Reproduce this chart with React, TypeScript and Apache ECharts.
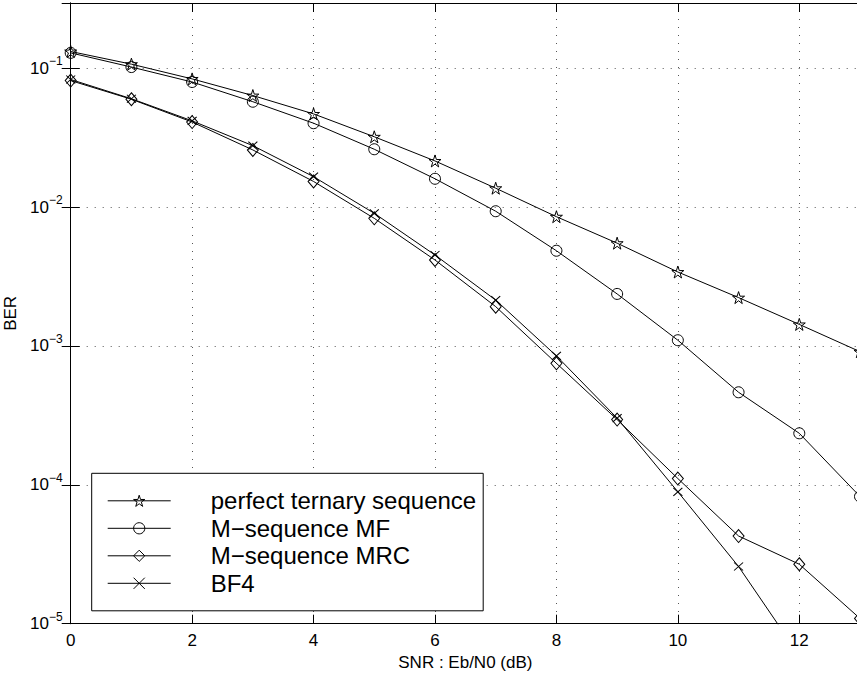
import React, { useEffect, useRef } from "react";
import * as echarts from "echarts";

const snr = [0, 1, 2, 3, 4, 5, 6, 7, 8, 9, 10, 11, 12, 13];
const perfectTernary = [0.132, 0.107, 0.0838, 0.0636, 0.0469, 0.0321, 0.0215, 0.01368, 0.00853, 0.0055, 0.00341, 0.00223, 0.00143, 0.00091];
const mSeqMF = [0.129, 0.102, 0.0796, 0.0574, 0.0402, 0.0261, 0.016, 0.00934, 0.00485, 0.00237, 0.0011, 0.000464, 0.000235, 0.0000824];
const mSeqMRC = [0.0815, 0.0598, 0.041, 0.0258, 0.0153, 0.0083, 0.00416, 0.00192, 0.00075, 0.000295, 0.000111, 0.0000428, 0.0000268, 0.0000109];
const bf4 = [0.083, 0.0603, 0.0418, 0.0277, 0.01656, 0.00902, 0.00452, 0.00214, 0.000848, 0.000302, 0.0000891, 0.0000258, 0.0000059];

const seriesNames = ["perfect ternary sequence", "M\u2212sequence MF", "M\u2212sequence MRC", "BF4"];
const xTicks = [0, 2, 4, 6, 8, 10, 12];

const STAR = "path://M50 0 L61.23 34.55 L97.55 34.55 L68.17 55.9 L79.39 90.45 L50 69.1 L20.61 90.45 L31.83 55.9 L2.45 34.55 L38.77 34.55 Z";
const CROSS = "path://M0 0 L10 10 M10 0 L0 10";

const FONT = "Liberation Sans, Arial, Helvetica, sans-serif";

function pairs(vals: number[]) {
  return vals.map((v, i) => [snr[i], v]);
}

export default function App() {
  const ref = useRef<HTMLDivElement>(null);
  useEffect(() => {
    if (!ref.current) return;
    const chart = echarts.init(ref.current, null, { renderer: "svg" });
    const mk = (name: string, data: number[], symbol: string, size: any) => ({
      name,
      type: "line",
      data: pairs(data),
      symbol,
      symbolSize: size,
      showAllSymbol: true,
      clip: true,
      lineStyle: { color: "#000", width: 1 },
      itemStyle: { color: "transparent", borderColor: "#000", borderWidth: 1 },
      emphasis: { disabled: true },
    });
    const gridLine = { show: true, lineStyle: { color: "#555", width: 1, type: [1, 7] } };
    chart.setOption({
      animation: false,
      backgroundColor: "#fff",
      textStyle: { fontFamily: FONT },
      grid: {
        left: 70.7,
        top: 3,
        width: 789.3,
        height: 620.7,
        containLabel: false,
        outerBoundsMode: "none",
      },
      xAxis: [
        {
          type: "value",
          min: 0,
          max: 13,
          interval: 2,
          position: "bottom",
          name: "SNR : Eb/N0 (dB)",
          nameLocation: "middle",
          nameGap: 29,
          nameTextStyle: { fontSize: 17, color: "#000", fontFamily: FONT },
          axisLine: { show: true, lineStyle: { color: "#000", width: 1 } },
          axisTick: { show: true, inside: true, length: 9, lineStyle: { color: "#000" } },
          axisLabel: {
            fontSize: 17,
            color: "#000",
            margin: 8,
            showMaxLabel: false,
            fontFamily: FONT,
            formatter: (v: number) => (xTicks.includes(v) ? String(v) : ""),
          },
          splitLine: gridLine,
        },
        {
          type: "value",
          min: 0,
          max: 13,
          interval: 2,
          position: "top",
          axisLine: { show: true, lineStyle: { color: "#000", width: 1 } },
          axisTick: { show: true, inside: true, length: 9, lineStyle: { color: "#000" } },
          axisLabel: { show: false },
          splitLine: { show: false },
        },
      ],
      yAxis: [
        {
          type: "log",
          logBase: 10,
          min: 1e-5,
          max: 0.295,
          position: "left",
          name: "BER",
          nameLocation: "middle",
          nameGap: 44,
          nameTextStyle: { fontSize: 17, color: "#000", fontFamily: FONT },
          axisLine: { show: true, lineStyle: { color: "#000", width: 1 } },
          axisTick: { show: true, inside: true, length: 9, lineStyle: { color: "#000" } },
          axisLabel: {
            showMaxLabel: false,
            margin: 8,
            color: "#000",
            fontFamily: FONT,
            formatter: (v: number) => {
              const e = Math.round(Math.log10(v));
              if (Math.abs(Math.log10(v) - e) > 0.01) return "";
              return "{b|10}{s|" + (e < 0 ? "\u2212" : "") + Math.abs(e) + "}";
            },
            rich: {
              b: { fontSize: 17, lineHeight: 26, verticalAlign: "middle", color: "#000", fontFamily: FONT },
              s: { fontSize: 12, lineHeight: 12, verticalAlign: "top", color: "#000", fontFamily: FONT },
            },
          },
          splitLine: gridLine,
        },
        {
          type: "log",
          logBase: 10,
          min: 1e-5,
          max: 0.295,
          position: "right",
          axisLine: { show: true, lineStyle: { color: "#000", width: 1 } },
          axisTick: { show: true, inside: true, length: 9, lineStyle: { color: "#000" } },
          axisLabel: { show: false },
          splitLine: { show: false },
        },
      ],
      legend: {
        data: seriesNames,
        orient: "vertical",
        left: 91.7,
        top: 473.3,
        padding: [15.5, 7, 15.5, 15.5],
        itemGap: 3.5,
        itemWidth: 63,
        itemHeight: 14,
        backgroundColor: "#fff",
        borderColor: "#000",
        borderWidth: 1,
        selectedMode: false,
        itemStyle: { color: "transparent", borderColor: "#000", borderWidth: 1 },
        lineStyle: { color: "#000", width: 1 },
        textStyle: {
          fontSize: 24,
          lineHeight: 24,
          color: "#000",
          fontFamily: FONT,
          padding: [0, 0, 0, 35],
        },
      },
      series: [
        mk(seriesNames[0], perfectTernary, STAR, [12, 12]),
        mk(seriesNames[1], mSeqMF, "circle", 11),
        mk(seriesNames[2], mSeqMRC, "diamond", [11, 13]),
        mk(seriesNames[3], bf4, CROSS, [9, 8]),
      ],
    });
    return () => chart.dispose();
  }, []);
  return (
    <div
      ref={ref}
      style={{ position: "fixed", left: 0, top: 0, width: 857, height: 675, background: "#fff" }}
    />
  );
}
